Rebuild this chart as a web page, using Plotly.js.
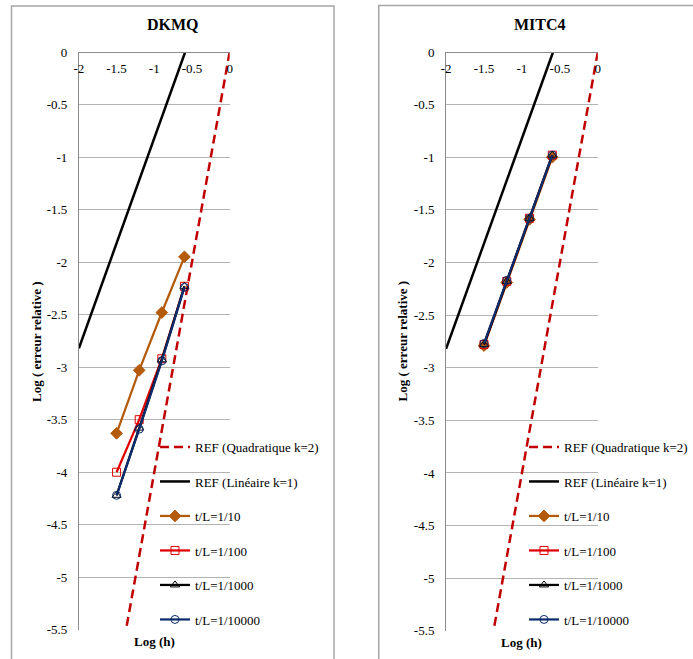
<!DOCTYPE html>
<html>
<head>
<meta charset="utf-8">
<script src="https://cdn.plot.ly/plotly-3.0.1.min.js"></script>
<style>html,body{margin:0;padding:0;background:#fff;}#chart{width:693px;height:659px;}</style>
</head>
<body>
<div id="chart"></div>
<script>
// ---- data ----
const panelTitles = ["DKMQ", "MITC4"];
const seriesNames = ["REF (Quadratique k=2)", "REF (Linéaire k=1)", "t/L=1/10", "t/L=1/100", "t/L=1/1000", "t/L=1/10000"];
const xLogH = [-0.6, -0.9, -1.2, -1.5];
const refQuadX = [0, -1.375];
const refQuadY = [0, -5.5];
const refLinX = [-2, -0.59];
const refLinY = [-2.82, 0];
const dkmq10 = [-1.95, -2.48, -3.03, -3.63];
const dkmq100 = [-2.23, -2.92, -3.50, -4.00];
const dkmq1000 = [-2.23, -2.93, -3.58, -4.22];
const dkmq10000 = [-2.24, -2.94, -3.59, -4.22];
const mitc10 = [-1.00, -1.59, -2.19, -2.79];
const mitc100 = [-0.98, -1.58, -2.18, -2.78];
const mitc1000 = [-0.98, -1.58, -2.18, -2.78];
const mitc10000 = [-0.98, -1.58, -2.17, -2.77];
const xTickVals = [-2, -1.5, -1, -0.5, 0];
const xTickText = ["-2", "-1.5", "-1", "-0.5", "0"];
const yTickVals = [0, -0.5, -1, -1.5, -2, -2.5, -3, -3.5, -4, -4.5, -5, -5.5];
const yTickText = ["0", "-0.5", "-1", "-1.5", "-2", "-2.5", "-3", "-3.5", "-4", "-4.5", "-5", "-5.5"];
const xAxisTitle = "Log (h)";
const yAxisTitle = "Log ( erreur relative )";

// ---- styles ----
const W = 693, H = 659;
const SERIF = "Liberation Serif";
const colors = ["#c00000", "#000000", "#b35a0b", "#e00000", "#000000", "#0c2c6c"];
const symbols = [null, null, "diamond", "square-open", "triangle-up-open", "circle-open"];

function buildTraces(ys, xa, ya, legendName) {
  const traces = [];
  traces.push({x: refQuadX, y: refQuadY, name: seriesNames[0], mode: "lines",
    line: {color: colors[0], width: 2.5, dash: "9px,5px"}, xaxis: xa, yaxis: ya, legend: legendName, legendgroup: legendName + "g0"});
  traces.push({x: refLinX, y: refLinY, name: seriesNames[1], mode: "lines",
    line: {color: colors[1], width: 2.5}, xaxis: xa, yaxis: ya, legend: legendName, legendgroup: legendName + "g1"});
  ys.forEach((yv, i) => {
    const k = i + 2;
    traces.push({x: xLogH, y: yv, name: seriesNames[k], mode: "lines+markers",
      line: {color: colors[k], width: 2.25},
      marker: {symbol: symbols[k], size: k === 2 ? 9 : 8, color: colors[k], line: {color: colors[k], width: 1}},
      xaxis: xa, yaxis: ya, legend: legendName, legendgroup: legendName + "g" + k});
  });
  return traces;
}

const data = [].concat(
  buildTraces([dkmq10, dkmq100, dkmq1000, dkmq10000], "x", "y", "legend"),
  buildTraces([mitc10, mitc100, mitc1000, mitc10000], "x2", "y2", "legend2")
);

function xAxis(domain) {
  return {domain: domain, anchor: "free", position: 1 - 52 / H, side: "bottom", range: [-2, 0], tickmode: "array",
    tickvals: xTickVals, ticktext: xTickText, ticks: "", ticklabelstandoff: 4,
    showgrid: false, zeroline: false, showline: true, linecolor: "#8c8c8c", linewidth: 1,
    tickfont: {family: SERIF, size: 13, color: "#000"}, fixedrange: true};
}
function yAxis(domain, anchor) {
  return {domain: domain, anchor: anchor, range: [-5.502, 0], tickmode: "array",
    tickvals: yTickVals, ticktext: yTickText, ticks: "", ticklabelstandoff: 8,
    showgrid: true, gridcolor: "#b3b3b3", gridwidth: 1, zeroline: false, showline: true,
    linecolor: "#8c8c8c", linewidth: 1, tickfont: {family: SERIF, size: 13, color: "#000"}, fixedrange: true};
}
function legend(xpx, ypx) {
  return {x: xpx / W, y: 1 - ypx / H, xanchor: "left", yanchor: "top", bgcolor: "rgba(0,0,0,0)",
    font: {family: SERIF, size: 13, color: "#000"}, tracegroupgap: 14.6, itemclick: false, itemdoubleclick: false};
}
function ann(text, xpx, ypx, size, angle) {
  return {text: "<b>" + text + "</b>", x: xpx / W, y: 1 - ypx / H, xref: "paper", yref: "paper",
    xanchor: "center", yanchor: "middle", showarrow: false, textangle: angle || 0,
    font: {family: SERIF, size: size, color: "#000"}};
}
function frame(x0px, x1px, ypx) {
  return {type: "rect", xref: "paper", yref: "paper", x0: x0px / W, x1: x1px / W, y0: -0.1, y1: 1 - ypx / H,
    line: {color: "#a6a6a6", width: 1.5}, fillcolor: "rgba(0,0,0,0)", layer: "below"};
}

const layout = {
  width: W, height: H, margin: {l: 0, r: 0, t: 0, b: 0}, paper_bgcolor: "#fff", plot_bgcolor: "rgba(0,0,0,0)",
  showlegend: true,
  xaxis: xAxis([79 / W, 230 / W]),
  yaxis: yAxis([1 - 630 / H, 1 - 52 / H], "x"),
  xaxis2: xAxis([446.7 / W, 598.7 / W]),
  yaxis2: yAxis([1 - 631 / H, 1 - 52 / H], "x2"),
  legend: legend(155, 432),
  legend2: legend(525, 432),
  annotations: [
    ann(panelTitles[0], 173, 25, 16), ann(panelTitles[1], 541, 25, 16),
    ann(yAxisTitle, 36, 341, 13, -90), ann(yAxisTitle, 403, 341, 13, -90),
    ann(xAxisTitle, 155, 641, 13), ann(xAxisTitle, 522.7, 642, 13)
  ],
  shapes: [frame(11.5, 334.5, 6), frame(379.3, 720, 5.5)]
};

Plotly.newPlot("chart", data, layout, {displayModeBar: false, staticPlot: true});
</script>
</body>
</html>
